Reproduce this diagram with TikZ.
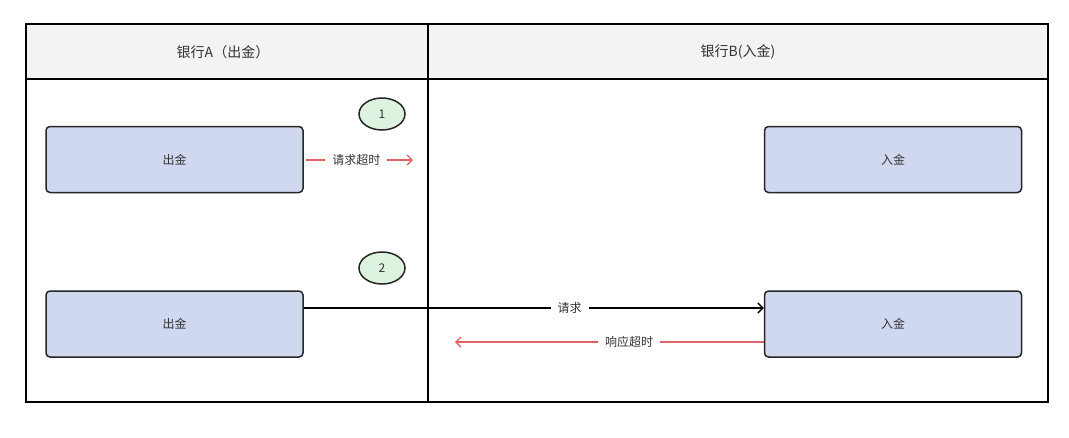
\documentclass[tikz,border=0pt]{standalone}
\usepackage{fontspec}
\setmainfont{Noto Sans CJK SC}
\usetikzlibrary{arrows.meta,shapes.geometric}
\definecolor{hdr}{HTML}{F3F3F3}
\definecolor{boxfill}{HTML}{D0D8F0}
\definecolor{elfill}{HTML}{DDF3E0}
\definecolor{redl}{HTML}{E06262}
\definecolor{txt}{HTML}{333333}
\begin{document}
\begin{tikzpicture}[x=1pt,y=-1pt,
  stepbox/.style={draw=black!85,line width=1.5pt,fill=boxfill,rounded corners=4pt,minimum width=257pt,minimum height=66pt,font=\fontsize{12}{14}\selectfont,text=txt},
  num/.style={ellipse,draw=black!85,line width=1.5pt,fill=elfill,minimum width=46pt,minimum height=32pt,inner sep=0pt,font=\fontsize{12}{14}\selectfont,text=txt},
  lbl/.style={fill=white,font=\fontsize{12}{14}\selectfont,text=txt,inner xsep=7pt,inner ysep=2pt},
  tip/.style={-{Straight Barb[length=5pt,width=10pt,line width=1.3pt]}},
  hd/.style={font=\fontsize{14}{16}\selectfont,text=txt}]
\useasboundingbox (0,0) rectangle (1069,437);
\fill[white] (0,0) rectangle (1069,437);
\fill[hdr] (26,24) rectangle (1048,79);
\draw[line width=1.5pt] (26,24) rectangle (1048,402);
\draw[line width=1.5pt] (26,79) -- (1048,79);
\draw[line width=1.5pt] (428,24) -- (428,402);
\node[hd] (hA) at (223,52) {银行A（出金）};
\node[hd] (hB) at (738,52) {银行B(入金)};
\node[stepbox] (a1) at (174.5,159.5) {出金};
\node[stepbox] (a2) at (174.5,324) {出金};
\node[stepbox] (b1) at (893,159.5) {入金};
\node[stepbox] (b2) at (893,324) {入金};
\node[num] (n1) at (382,114) {1};
\node[num] (n2) at (382,268) {2};
\coordinate (r1s) at (306,160);
\coordinate (r1e) at (413,160);
\draw[redl,line width=1.4pt,tip] (r1s) -- (r1e) node[lbl,pos=0.47] {请求超时};
\draw[black,line width=1.4pt,tip] (a2.east |- 0,308) -- (b2.west |- 0,308) node[lbl,pos=0.578] {请求};
\coordinate (r3e) at (455,342);
\draw[redl,line width=1.4pt,tip] (b2.west |- 0,342) -- (r3e) node[lbl,pos=0.436] {响应超时};
\end{tikzpicture}
\end{document}
